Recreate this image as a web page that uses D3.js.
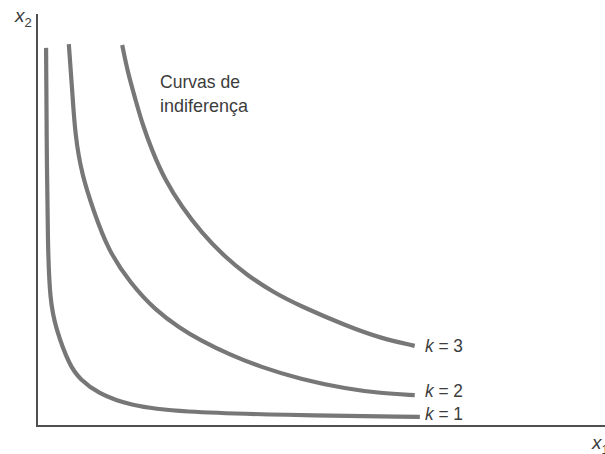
<!DOCTYPE html>
<html>
<head>
<meta charset="utf-8">
<script src="https://cdn.jsdelivr.net/npm/d3@7"></script>
<style>
  body { margin: 0; background: #fff; }
  text { font-family: "Liberation Sans", Arial, sans-serif; fill: #3c3c3c; }
</style>
</head>
<body>
<div id="chart"></div>
<script>
// indifference curves (x1, x2 in arbitrary units 0..10)
var curveNames = ["k = 1", "k = 2", "k = 3"];
var k1X = [0.16, 0.17, 0.19, 0.23, 0.32, 0.58, 0.76, 1.06, 1.64, 2.52, 4.28, 6.74];
var k1Y = [9.20, 6.96, 4.28, 3.07, 2.41, 1.44, 1.14, 0.80, 0.49, 0.34, 0.27, 0.22];
var k2X = [0.56, 0.62, 0.67, 0.79, 0.99, 1.25, 1.64, 2.08, 2.52, 2.87, 3.40, 3.93, 4.63, 5.46, 6.04, 6.65];
var k2Y = [9.29, 8.18, 7.08, 6.11, 5.26, 4.28, 3.48, 2.82, 2.38, 2.09, 1.73, 1.44, 1.14, 0.90, 0.80, 0.75];
var k3X = [1.50, 1.60, 1.73, 1.85, 2.02, 2.25, 2.55, 2.90, 3.31, 3.70, 4.15, 4.63, 5.46, 6.04, 6.65];
var k3Y = [9.27, 8.59, 7.96, 7.37, 6.72, 5.99, 5.33, 4.70, 4.11, 3.67, 3.26, 2.92, 2.43, 2.14, 1.95];
var titleLines = ["Curvas de", "indiferença"];

var w = 605, h = 454;

var svg = d3.select("#chart").append("svg")
    .attr("width", w)
    .attr("height", h);

var x = d3.scaleLinear().domain([0, 10]).range([37, 605]);
var y = d3.scaleLinear().domain([0, 10]).range([426, 15]);

// axes
svg.append("line")
    .attr("x1", x(0)).attr("y1", y(0) + 1)
    .attr("x2", x(0)).attr("y2", y(10) - 1)
    .attr("stroke", "#505050").attr("stroke-width", 2);
svg.append("line")
    .attr("x1", x(0) - 1).attr("y1", y(0))
    .attr("x2", x(10)).attr("y2", y(0))
    .attr("stroke", "#505050").attr("stroke-width", 2);

var series = [
    d3.zip(k1X, k1Y),
    d3.zip(k2X, k2Y),
    d3.zip(k3X, k3Y)
];

var line = d3.line()
    .x(function(d) { return x(d[0]); })
    .y(function(d) { return y(d[1]); })
    .curve(d3.curveBasis);

svg.selectAll("path.curve")
    .data(series)
    .enter()
    .append("path")
    .attr("class", "curve")
    .attr("d", line)
    .attr("fill", "none")
    .attr("stroke", "#777")
    .attr("stroke-width", 4.2);

// curve labels
var labelY = [420, 397, 352];
svg.selectAll("text.k")
    .data(series)
    .enter()
    .append("text")
    .attr("class", "k")
    .attr("x", 425)
    .attr("y", function(d, i) { return labelY[i]; })
    .attr("textLength", 38)
    .attr("lengthAdjust", "spacingAndGlyphs")
    .style("font-size", "19px")
    .each(function(d, i) {
        var parts = curveNames[i].split(" ");
        var t = d3.select(this);
        t.append("tspan").style("font-style", "italic").text(parts[0]);
        t.append("tspan").text(" " + parts[1] + " " + parts[2]);
    });

// title
svg.selectAll("text.title")
    .data(titleLines)
    .enter()
    .append("text")
    .attr("class", "title")
    .attr("x", 160)
    .attr("y", function(d, i) { return 88 + i * 24; })
    .attr("textLength", function(d, i) { return i == 0 ? 80 : 88; })
    .attr("lengthAdjust", "spacingAndGlyphs")
    .style("font-size", "19px")
    .text(function(d) { return d; });

// axis names
var yl = svg.append("text").attr("x", 15).attr("y", 22).style("font-size", "19px");
yl.append("tspan").style("font-style", "italic").text("x");
yl.append("tspan").attr("dy", 5).style("font-size", "13px").text("2");

var xl = svg.append("text").attr("x", 592).attr("y", 449).style("font-size", "19px");
xl.append("tspan").style("font-style", "italic").text("x");
xl.append("tspan").attr("dy", 5).style("font-size", "13px").text("1");
</script>
</body>
</html>
